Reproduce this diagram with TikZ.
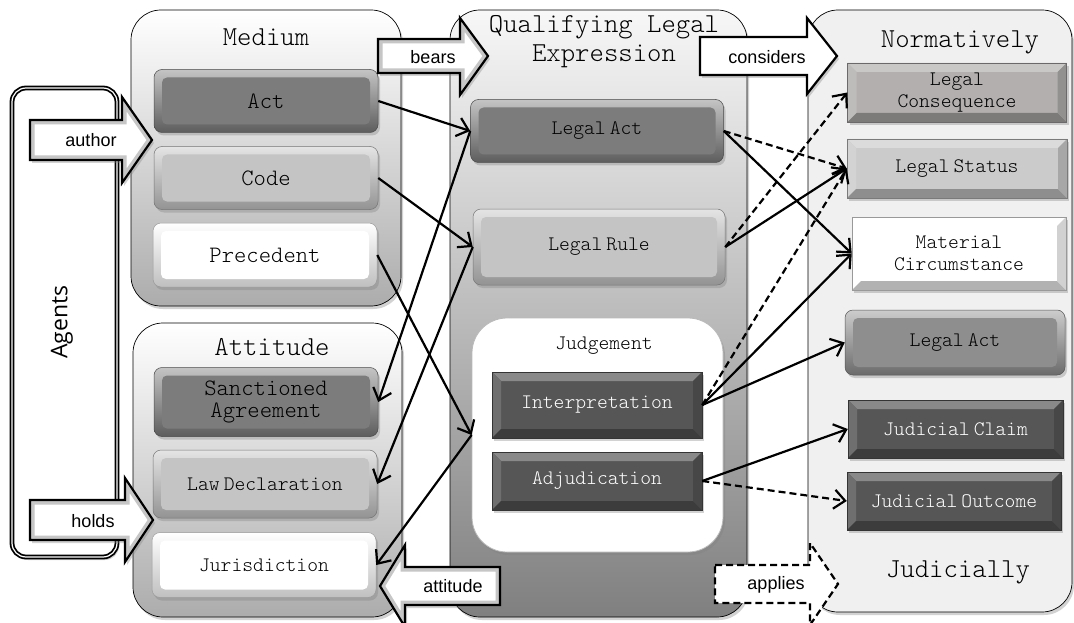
\documentclass[tikz,border=0pt]{standalone}
\usepackage{fontspec}
\usetikzlibrary{arrows.meta,shadows,calc}
\newfontfamily\tmono{lmmonolt10-regular.otf}
\newfontfamily\tsans{Liberation Sans}
\newfontfamily\topen{Open Sans}
\newcommand\narrowsp{\spaceskip 0.2em\relax}
\newcommand\bigfont{\tmono\fontsize{23.5}{22}\selectfont\narrowsp}
\newcommand\smlfont{\tmono\fontsize{20.6}{21.5}\selectfont\narrowsp}
\definecolor{cdark}{HTML}{7C7C7C}
\definecolor{cmid}{HTML}{C4C4C4}
\definecolor{cract}{HTML}{8E8E8E}
\definecolor{cjud}{HTML}{565656}
\definecolor{ccons}{HTML}{B3AFAF}
\definecolor{cstat}{HTML}{CBCBCB}
\definecolor{cnorm}{HTML}{F0F0F0}
\begin{document}
\begin{tikzpicture}[x=1pt,y=-1pt,
  shad/.style={drop shadow={shadow xshift=2pt,shadow yshift=-3pt,opacity=0.35}},
  cont/.style={rounded corners=30pt, draw=black, line width=0.7pt, shad},
  gbtn/.style={shape=rectangle, rounded corners=8pt, draw=#1!60!black, line width=0.5pt,
    top color=#1!45!white, bottom color=#1!75!black, shad,
    path picture={\fill[#1, rounded corners=5pt]
      ([shift={(8pt,-8pt)}]path picture bounding box.north west) rectangle
      ([shift={(-8pt,8pt)}]path picture bounding box.south east);},
    inner sep=0pt, align=center},
  bbox/.style={shape=rectangle, fill=#1, draw=#1!60!black, line width=0.5pt, shad,
    inner sep=0pt, align=center,
    path picture={
      \coordinate (q1) at (path picture bounding box.north west);
      \coordinate (q2) at (path picture bounding box.north east);
      \coordinate (q3) at (path picture bounding box.south east);
      \coordinate (q4) at (path picture bounding box.south west);
      \fill[#1!70!white] (q1) -- (q2) -- ($(q2)+(-9pt,-9pt)$) -- ($(q1)+(9pt,-9pt)$) -- cycle;
      \fill[#1!85!white] (q1) -- ($(q1)+(9pt,-9pt)$) -- ($(q4)+(9pt,9pt)$) -- (q4) -- cycle;
      \fill[#1!70!black] (q4) -- ($(q4)+(9pt,9pt)$) -- ($(q3)+(-9pt,9pt)$) -- (q3) -- cycle;
      \fill[#1!82!black] (q3) -- ($(q3)+(-9pt,9pt)$) -- ($(q2)+(-9pt,-9pt)$) -- (q2) -- cycle;
    }},
  ttl/.style={font=\tmono\fontsize{27.4}{29}\selectfont, inner sep=0pt},
  big/.style={font=\bigfont},
  sml/.style={font=\smlfont},
  lab/.style={font=\tsans\fontsize{18}{20}\selectfont, inner sep=0pt},
  conn/.style={-{Straight Barb[length=11pt,width=19pt]}, line width=2.2pt},
  dconn/.style={conn, dash pattern=on 7pt off 4pt}
]
\useasboundingbox (0,0) rectangle (1074,623);
\fill[white] (0,0) rectangle (1074,623);

% ---------- containers ----------
\path[cont, fill=cnorm] (808,10) rectangle (1072,612);
\node[ttl] (tnorm) at (960,42) {Normatively};
\node[ttl] (tjud) at (958,572) {Judicially};

\path[cont, top color=gray!6, middle color=gray!45, bottom color=gray] (450,10) rectangle (747,617);

\path[cont, top color=white, bottom color=gray!65] (131,10) rectangle (401,306);
\node[ttl] (tmed) at (266,37) {Medium};
\path[cont, top color=white, bottom color=gray!65] (133,323) rectangle (402,617);
\node[ttl] (tatt) at (272,347) {Attitude};

\path[rounded corners=14pt, draw=black, line width=1.8pt, double=white, double distance=1.2pt, fill=white, shad] (12,88) rectangle (117,557);
\node[rotate=90, font=\topen\fontsize{23}{26}\selectfont] (agents) at (62,322) {Agents};

% Judgement container
\node[rounded corners=35pt, fill=white, draw=gray!55, line width=0.8pt, shad, minimum width=251pt, minimum height=234pt] (judg) at (597.5,435) {};
\node[font=\tmono\fontsize{20.6}{22}\selectfont] (tjudg) at (604,346) {Judgement};

% ---------- buttons ----------
\node[gbtn=cdark, minimum width=224pt, minimum height=63pt, big] (act) at (266,101) {Act};
\node[gbtn=cmid, minimum width=224pt, minimum height=63pt, big] (code) at (266,178) {Code};
\node[gbtn=white, minimum width=224pt, minimum height=64pt, big] (prec) at (265,255) {Precedent};

\node[gbtn=cdark, minimum width=224pt, minimum height=69pt, big] (sanc) at (266,402) {Sanctioned\\Agreement};
\node[gbtn=cmid, minimum width=224pt, minimum height=68pt, sml] (lawd) at (265,484) {Law Declaration};
\node[gbtn=white, minimum width=224pt, minimum height=65pt, sml] (juris) at (264,565) {Jurisdiction};

\node[gbtn=cdark, minimum width=253pt, minimum height=63pt, sml] (qact) at (597,131) {Legal Act};
\node[gbtn=cmid, minimum width=252pt, minimum height=76pt, sml] (qrule) at (599,247) {Legal Rule};
\node[bbox=cjud, minimum width=210pt, minimum height=66pt, sml, text=white] (interp) at (597,405) {Interpretation};
\node[bbox=cjud, minimum width=210pt, minimum height=58pt, sml, text=white] (adjud) at (597,481) {Adjudication};

\node[bbox=ccons, minimum width=219pt, minimum height=59pt, sml] (lcons) at (957,92.5) {Legal\\Consequence};
\node[bbox=cstat, minimum width=220pt, minimum height=59pt, sml] (lstat) at (957,168.5) {Legal Status};
\node[bbox=white, minimum width=214pt, minimum height=73pt, sml] (matc) at (959,253.5) {Material\\Circumstance};
\node[gbtn=cract, minimum width=220pt, minimum height=65pt, sml] (ract) at (955,342.5) {Legal Act};
\node[bbox=cjud, minimum width=215pt, minimum height=58pt, sml, text=white] (jclaim) at (955.5,429) {Judicial Claim};
\node[bbox=cjud, minimum width=214pt, minimum height=58pt, sml, text=white] (jout) at (954,501) {Judicial Outcome};

% ---------- big arrows ----------
\path[fill=white, shad, save path=\pAuthor] (30,120) -- (122,120) -- (122,97) -- (152,140) -- (122,183) -- (122,160) -- (30,160) -- cycle;
\begin{scope}\path[use path=\pAuthor, clip]; \draw[use path=\pAuthor, line width=9pt, gray!45]; \end{scope}
\draw[use path=\pAuthor, line width=2.2pt];
\node[lab] (lauthor) at (91,140) {author};

\path[fill=white, shad, save path=\pHolds] (30,500) -- (125,500) -- (125,478) -- (153,520) -- (125,562) -- (125,540) -- (30,540) -- cycle;
\begin{scope}\path[use path=\pHolds, clip]; \draw[use path=\pHolds, line width=9pt, gray!45]; \end{scope}
\draw[use path=\pHolds, line width=2.2pt];
\node[lab] (lholds) at (93,521) {holds};

\path[fill=white, shad, save path=\pBears] (378,39) -- (460,39) -- (460,18) -- (488,56) -- (460,95) -- (460,73) -- (378,73) -- cycle;
\begin{scope}\path[use path=\pBears, clip]; \draw[use path=\pBears, line width=9pt, gray!45]; \end{scope}
\draw[use path=\pBears, line width=2.2pt];
\node[lab] (lbears) at (433,57) {bears};

\path[fill=white, shad, save path=\pAtt] (500,567) -- (405,567) -- (405,545) -- (380,586) -- (405,627) -- (405,605) -- (500,605) -- cycle;
\begin{scope}\path[use path=\pAtt, clip]; \draw[use path=\pAtt, line width=9pt, gray!45]; \end{scope}
\draw[use path=\pAtt, line width=2.2pt];
\node[lab] (latt) at (453,586) {attitude};

% QLE title (partly under the 'considers' arrow in the reference)
\node[font=\tmono\fontsize{27.4}{29}\selectfont, align=center, inner sep=0pt] (tqle) at (604,42) {Qualifying Legal\\Expression};

\draw[fill=white, line width=2.2pt, line join=miter, shad] (700,37) -- (807,37) -- (807,18) -- (837,56) -- (807,94) -- (807,75) -- (700,75) -- cycle;
\node[lab] (lcons2) at (767,57) {considers};

\draw[fill=white, line width=2.2pt, dash pattern=on 7pt off 4pt] (715,565) -- (810,565) -- (810,543) -- (838,584) -- (810,625) -- (810,603) -- (715,603) -- cycle;
\node[lab] (lapp) at (776,585) {applies};

% ---------- connectors ----------
\draw[conn] (act.east) -- (qact.west);
\draw[conn] (code.east) -- (qrule.west);
\draw[conn] (prec.east) -- (judg.west);
\draw[conn] (qact.west) -- (sanc.east);
\draw[conn] (qrule.west) -- (lawd.east);
\draw[conn] (judg.west) -- (juris.east);

\draw[dconn] (qact.east) -- (lstat.west);
\draw[conn] (qact.east) -- (matc.west);
\draw[dconn] (qrule.east) -- (lcons.west);
\draw[conn] (qrule.east) -- (lstat.west);
\draw[dconn] (interp.east) -- (lstat.west);
\draw[conn] (interp.east) -- (matc.west);
\draw[conn] (interp.east) -- (ract.west);
\draw[conn] (adjud.east) -- (jclaim.west);
\draw[dconn] (adjud.east) -- (jout.west);
\end{tikzpicture}
\end{document}
